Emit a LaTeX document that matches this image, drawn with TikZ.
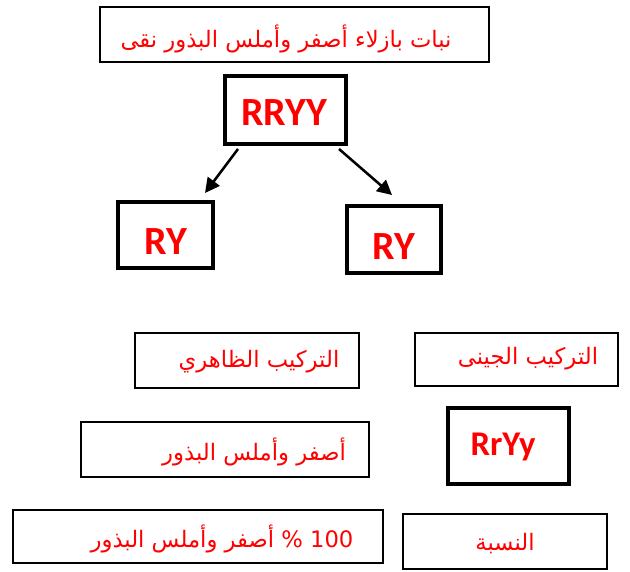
\documentclass[tikz,border=0pt]{standalone}
\usepackage{fontspec}
\setmainfont{Carlito}
\newfontfamily\arabicfont[Script=Arabic]{DejaVu Sans}
\TeXXeTstate=1
\usetikzlibrary{arrows.meta,calc}
\definecolor{tred}{RGB}{255,0,0}
\tikzset{
  thinbox/.style={draw=black, line width=1.7pt, fill=white, inner sep=0pt},
  thickbox/.style={draw=black, line width=3pt, fill=white, inner sep=0pt},
  artext/.style={text=tred, inner sep=0pt, font=\arabicfont\fontsize{17}{20}\selectfont},
  gtext/.style={text=tred, inner sep=0pt, font=\bfseries\fontsize{30}{34}\selectfont},
  gsmall/.style={text=tred, inner sep=0pt, font=\bfseries\fontsize{26}{30}\selectfont},
  arr/.style={-{Triangle[length=11pt,width=11pt]}, line width=1.9pt}
}
\begin{document}
\begin{tikzpicture}[x=0.75pt,y=-0.75pt]
\useasboundingbox (0,0) rectangle (630,571);
% boxes
\node[thinbox, minimum width=389*0.75pt, minimum height=55*0.75pt] (title) at (294.5,34.5) {};
\node[thickbox, minimum width=121*0.75pt, minimum height=68*0.75pt] (rryy) at (285.5,110) {};
\node[thickbox, minimum width=95*0.75pt, minimum height=66*0.75pt] (ry1) at (165.5,235) {};
\node[thickbox, minimum width=94*0.75pt, minimum height=67*0.75pt] (ry2) at (394,239.5) {};
\node[thinbox, minimum width=224*0.75pt, minimum height=55*0.75pt] (phen) at (247,360.5) {};
\node[thinbox, minimum width=203*0.75pt, minimum height=53*0.75pt] (gen) at (516.5,359.5) {};
\node[thinbox, minimum width=288*0.75pt, minimum height=55*0.75pt] (phenv) at (225,449.5) {};
\node[thickbox, minimum width=121*0.75pt, minimum height=76*0.75pt] (genv) at (508.5,446) {};
\node[thinbox, minimum width=370*0.75pt, minimum height=53*0.75pt] (ratiov) at (198,536.5) {};
\node[thinbox, minimum width=204*0.75pt, minimum height=55*0.75pt] (ratio) at (505,541.5) {};
% texts
\node[artext] (t1) at (286,39) {\beginR نبات بازلاء أصفر وأملس البذور نقى\endR};
\node[gtext] (t2) at (284,113) {RRYY};
\node[gtext] (t3) at (166,242) {RY};
\node[gtext] (t4) at (394,247) {RY};
\node[artext] (t5) at (259,362) {\beginR التركيب الظاهري\endR};
\node[artext] (t6) at (528,359) {\beginR التركيب الجينى\endR};
\node[artext] (t7) at (254,452) {\beginR أصفر وأملس البذور\endR};
\node[gsmall] (t8) at (503,447) {RrYy};
\node[artext] (t9) at (222,539) {\beginR\beginL 100\endL{} \% أصفر وأملس البذور\endR};
\node[artext] (t10) at (505,544) {\beginR النسبة\endR};
% arrows
\draw[arr] ($(rryy.south west)+(15,3)$) -- ($(ry1.north east)+(-10,-7)$);
\draw[arr] ($(rryy.south east)+(-9,3)$) -- ($(ry2.north)+(-2,-9)$);
\end{tikzpicture}
\end{document}
